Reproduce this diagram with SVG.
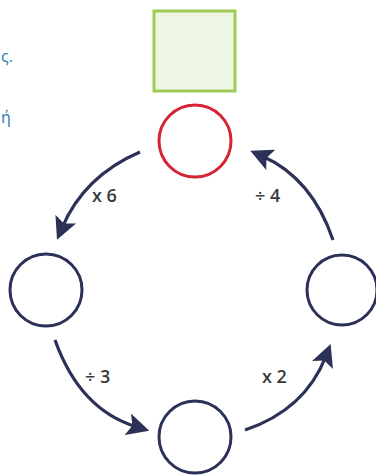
<svg xmlns="http://www.w3.org/2000/svg" width="376" height="475" viewBox="0 0 376 475">
<defs>
<style>
.node{fill:#ffffff;stroke:#2b3157;stroke-width:3}
.lbl{font-family:"Open Sans","Liberation Sans",sans-serif;font-size:18px;font-weight:600;fill:#3a3a3a}
.side{font-family:"Open Sans","Liberation Sans",sans-serif;font-size:16px;fill:#2a78b4}
.arc{fill:none;stroke:#2b3157;stroke-width:3.2;marker-end:url(#ah)}
</style>
<marker id="ah" markerWidth="7" markerHeight="7" refX="3" refY="3.5" orient="auto" markerUnits="strokeWidth">
<path d="M0,0 L7,3.5 L0,7 L1.5,3.5 Z" fill="#2b3157"/>
</marker>
</defs>
<rect width="376" height="475" fill="#ffffff"/>
<text class="side" x="1" y="62">ς.</text>
<text class="side" x="1" y="123">ή</text>
<g id="square"><rect x="154" y="11" width="81" height="80" fill="#eef5e2" stroke="#9ccc55" stroke-width="3"/></g>
<g id="top"><circle cx="195" cy="141" r="36" fill="#ffffff" stroke="#d42435" stroke-width="3"/></g>
<g id="left"><circle class="node" cx="46" cy="290" r="36"/></g>
<g id="right"><circle class="node" cx="342" cy="290" r="35"/></g>
<g id="bottom"><circle class="node" cx="195" cy="437" r="36"/></g>
<g id="connectors">
<path class="arc" d="M140,152 Q84,176 62,228"/>
<path class="arc" d="M333,240 Q312,178 262,156"/>
<path class="arc" d="M55,340 Q80,410 137,427"/>
<path class="arc" d="M245,430 Q305,410 326,356"/>
</g>
<text class="lbl" x="92" y="202">x 6</text>
<text class="lbl" x="255" y="202">÷ 4</text>
<text class="lbl" x="85" y="383">÷ 3</text>
<text class="lbl" x="262" y="383">x 2</text>
</svg>
